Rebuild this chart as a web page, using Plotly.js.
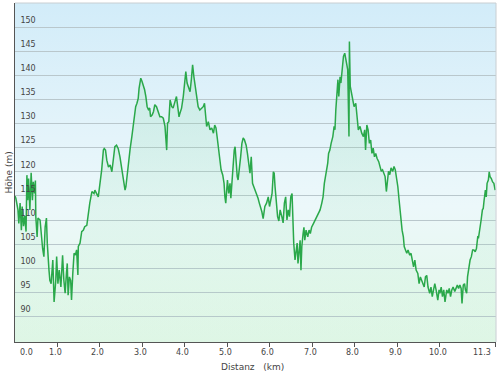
<!DOCTYPE html>
<html>
<head>
<meta charset="utf-8">
<script src="https://cdn.plot.ly/plotly-3.0.1.min.js"></script>
<style>
  html, body { margin: 0; padding: 0; background: #ffffff; }
  #wrap { position: relative; width: 500px; height: 377px; }
  #bg { position: absolute; left: 15px; top: 3px; width: 481px; height: 339px;
        background: linear-gradient(to bottom, #d2ecf9 0%, #e2f3fa 35%, #ecf8fa 60%, #e6f8ee 85%, #e2f7e8 100%); }
  #chart { position: absolute; left: 0; top: 0; width: 500px; height: 377px; }
</style>
</head>
<body>
<div id="wrap"><div id="bg"></div><div id="chart"></div></div>
<script>
// Distance (km) along the route
const distanceKm = [
  0.00,0.02,0.07,0.09,0.12,0.15,0.17,0.20,0.23,0.26,0.28,0.30,0.32,0.35,0.38,0.41,0.43,0.46,0.48,0.49,
  0.52,0.54,0.59,0.62,0.65,0.68,0.71,0.74,0.76,0.80,0.82,0.85,0.89,0.90,0.92,0.96,0.98,1.01,1.04,1.08,
  1.10,1.12,1.15,1.18,1.21,1.23,1.25,1.28,1.31,1.33,1.36,1.39,1.42,1.45,1.48,1.49,1.53,1.57,1.61,1.64,
  1.69,1.72,1.76,1.81,1.86,
  1.88,1.92,1.96,2.00,2.04,2.08,2.10,2.13,2.16,2.20,2.24,2.28,2.31,2.35,2.39,2.43,2.47,2.51,2.55,2.59,
  2.61,2.64,2.68,2.71,2.75,2.78,2.81,2.84,2.87,2.90,2.92,2.96,2.99,3.02,3.05,3.08,3.11,3.14,3.17,3.19,
  3.23,3.26,3.29,3.33,3.37,3.41,3.45,3.49,3.53,3.55,3.57,3.59,3.62,3.65,3.69,3.72,3.76,3.80,3.83,3.86,
  3.88,3.92,3.96,4.00,4.02,4.05,4.09,4.12,4.15,4.18,4.21,4.24,4.28,4.31,4.35,4.39,4.43,4.46,4.48,4.51,
  4.55,4.59,4.63,4.67,4.70,4.73,4.76,4.79,4.82,4.85,4.89,4.92,4.94,4.96,5.00,5.03,5.06,5.08,5.11,5.14,
  5.16,5.18,5.21,5.23,5.25,5.28,5.31,5.34,5.37,5.40,5.44,5.47,5.50,5.53,5.56,5.59,5.62,5.65,5.69,5.72,
  5.75,5.78,5.81,5.84,5.88,
  5.92,5.96,5.99,6.02,6.05,6.08,6.10,6.12,6.15,6.18,6.21,6.24,6.28,6.31,6.34,6.37,6.40,6.43,6.46,6.49,
  6.52,6.54,6.56,6.59,6.61,6.64,6.66,6.68,6.71,6.73,6.75,6.78,6.80,6.82,6.85,6.89,6.92,6.95,6.98,7.02,
  7.06,7.10,7.14,7.18,7.22,7.25,7.28,7.31,7.33,7.36,7.38,7.41,7.44,7.48,7.51,7.53,7.55,7.58,7.60,7.62,
  7.65,7.67,7.70,7.73,7.76,7.79,7.81,7.83,7.86,7.87,7.89,7.92,7.95,7.98,8.02,8.05,8.08,8.12,
  8.16,8.20,8.23,8.25,8.28,8.31,8.34,8.37,8.40,8.43,8.46,8.49,8.52,8.56,8.59,8.62,8.65,8.68,8.71,8.74,
  8.76,8.79,8.82,8.85,8.89,8.92,8.95,8.98,9.01,9.04,9.07,9.09,9.11,9.14,9.16,9.19,9.22,9.25,9.29,9.32,
  9.35,9.38,9.41,9.44,9.48,9.51,9.54,9.57,9.60,9.63,9.66,9.69,9.72,9.76,9.79,9.82,9.85,9.88,9.91,9.95,
  9.98,
  10.00,10.03,10.06,10.09,10.12,10.16,10.19,10.22,10.25,10.28,10.31,10.35,10.38,10.41,10.44,10.47,10.50,10.52,10.55,10.58,
  10.60,10.63,10.65,10.68,10.71,10.74,10.77,10.80,10.83,10.86,10.89,10.91,10.94,10.97,11.00,11.02,11.04,11.07,11.09,11.11,
  11.14,11.16,11.18,11.21,11.24,11.27,11.30
];
// Elevation (m)
const elevationM = [
  115.0,114.5,112.1,109.3,113.5,107.9,112.8,108.7,110.8,107.6,119.3,114.1,118.6,112.1,119.8,114.1,117.9,115.5,118.2,110.7,
  106.5,110.4,110.0,106.5,104.1,102.4,108.6,110.4,105.2,99.6,97.5,96.8,101.7,98.9,93.0,97.5,102.4,96.8,99.6,96.1,
  100.3,102.7,97.5,94.8,98.9,101.0,94.4,98.2,97.5,93.4,98.9,103.1,102.7,103.8,98.6,104.5,105.2,107.6,107.9,108.6,
  108.9,111.4,113.5,115.9,115.5,
  116.2,115.6,114.8,117.6,120.4,124.5,124.8,124.5,122.4,121.0,121.4,120.0,122.4,125.2,125.5,124.8,123.1,121.0,118.3,116.2,
  116.9,119.7,122.4,124.8,127.3,129.4,131.8,133.5,134.2,135.2,137.3,139.4,138.7,138.0,137.0,135.6,133.5,132.9,133.2,131.4,
  131.8,132.5,133.9,133.5,132.5,131.4,131.4,131.1,129.4,127.3,124.5,130.1,130.4,134.9,133.5,133.2,134.2,135.6,133.5,131.4,
  132.1,133.2,135.6,139.1,140.8,138.4,137.3,136.6,139.1,142.2,139.7,137.6,135.6,133.5,132.8,133.2,133.5,134.2,131.4,129.4,
  130.4,128.7,129.1,128.0,129.7,129.1,127.0,124.9,122.4,120.4,119.3,117.6,114.8,113.5,118.3,115.5,117.6,114.5,118.3,122.4,
  124.5,125.2,121.1,119.0,118.3,120.4,123.1,125.9,127.0,126.6,125.5,123.8,121.1,119.7,123.1,117.6,116.9,116.2,115.5,114.5,
  113.5,112.8,111.7,110.3,112.8,
  113.5,114.8,112.8,114.5,115.5,120.0,119.7,116.9,113.5,110.7,109.8,112.1,110.7,109.4,113.5,114.8,110.0,112.1,110.7,114.8,
  115.5,110.0,105.2,101.7,103.1,105.2,101.0,103.8,105.8,99.6,104.5,107.2,108.5,105.8,107.9,106.5,107.9,107.2,108.5,109.2,
  110.0,110.7,111.4,112.1,113.5,114.8,117.6,119.0,120.4,121.8,123.8,124.5,125.9,127.3,129.4,128.7,132.8,137.0,139.1,135.6,
  139.7,138.4,141.8,143.9,144.6,142.9,141.8,141.2,127.3,147.0,137.7,136.3,134.9,133.5,134.2,131.4,128.7,129.4,
  128.0,127.3,128.7,124.5,129.7,128.7,125.9,126.6,123.8,124.9,123.1,123.8,122.8,122.1,121.1,120.1,120.4,119.7,119.0,115.9,
  117.6,120.1,119.4,120.8,120.1,121.1,120.4,119.0,116.9,114.1,110.7,109.3,107.9,106.5,104.5,103.8,103.1,103.8,102.7,103.1,
  101.7,100.3,101.7,99.6,98.9,96.8,98.2,97.5,96.8,96.1,98.2,98.5,96.1,94.8,96.1,94.1,95.5,96.8,95.5,93.4,
  95.5,
  94.8,96.1,94.1,95.5,93.0,95.5,94.8,95.8,94.1,95.5,96.1,95.2,96.1,96.5,95.8,96.5,95.8,92.7,96.5,96.8,
  95.5,94.8,98.2,100.6,101.7,102.4,103.8,103.8,103.4,104.1,106.5,106.4,107.9,110.0,112.1,112.4,114.1,116.2,114.8,117.6,
  118.3,120.0,119.0,118.6,117.9,117.6,116.2
];
const xTickValues = [0, 1, 2, 3, 4, 5, 6, 7, 8, 9, 10, 11.3];
const xTickLabels = ['0.0','1.0','2.0','3.0','4.0','5.0','6.0','7.0','8.0','9.0','10.0','11.3'];
const yTickValues = [90, 95, 100, 105, 110, 115, 120, 125, 130, 135, 140, 145, 150];
const xTitle = 'Distanz\u00A0\u00A0\u00A0(km)';
const yTitle = 'Höhe (m)';

const FAMILY = 'DejaVu Sans, Verdana, sans-serif';
const font = { family: FAMILY, size: 8, color: '#444444' };
const titleFont = { family: FAMILY, size: 9, color: '#444444' };

const trace = {
  type: 'scatter', mode: 'lines',
  x: distanceKm, y: elevationM,
  line: { color: '#2aa84a', width: 1.5 },
  fill: 'tozeroy',
  fillgradient: {
    type: 'vertical',
    start: 84.7, stop: 147,
    colorscale: [[0, 'rgba(160,230,185,0.06)'], [1, 'rgba(120,210,150,0.22)']]
  },
  hoverinfo: 'skip'
};

// x tick labels as annotations (edge labels are kept inside the chart, like the original)
const xLabelAnnotations = xTickValues.map((v, i) => {
  const last = i === xTickValues.length - 1;
  const first = i === 0;
  return {
    xref: 'x', yref: 'paper', x: v, y: 0,
    text: xTickLabels[i], showarrow: false, font: font,
    xanchor: first ? 'left' : (last ? 'right' : 'center'),
    xshift: first ? 3 : (last ? -2 : -2),
    yanchor: 'middle', yshift: -10
  };
});

const layout = {
  width: 500, height: 377,
  margin: { l: 15, r: 4, t: 3, b: 35 },
  paper_bgcolor: 'rgba(0,0,0,0)',
  plot_bgcolor: 'rgba(0,0,0,0)',
  showlegend: false,
  font: font,
  xaxis: {
    range: [0, 11.32], fixedrange: true,
    tickmode: 'array', tickvals: xTickValues, showticklabels: false,
    showgrid: false, zeroline: false,
    showline: true, linecolor: '#555555', linewidth: 1,
    ticks: 'outside', ticklen: 4, tickcolor: '#555555'
  },
  yaxis: {
    range: [84.7, 155.0], fixedrange: true,
    tickmode: 'array', tickvals: yTickValues,
    showgrid: true, gridcolor: '#b9c7cc', gridwidth: 1,
    zeroline: false,
    showline: true, linecolor: '#555555', linewidth: 1,
    ticks: '', ticklabelposition: 'inside',
    ticklabelshift: -7, ticklabelstandoff: 4,
    tickfont: font
  },
  annotations: xLabelAnnotations.concat([
    { xref: 'paper', yref: 'paper', x: 0.5, y: 0, xshift: -3.5, yshift: -25,
      xanchor: 'center', yanchor: 'middle', text: xTitle, showarrow: false, font: titleFont },
    { xref: 'paper', yref: 'paper', x: 0, y: 0.5, xshift: -7,
      xanchor: 'center', yanchor: 'middle', textangle: -90, text: yTitle, showarrow: false, font: titleFont }
  ]),
  shapes: [
    { type: 'line', xref: 'paper', yref: 'paper', x0: 0, x1: 1, y0: 1, y1: 1, line: { color: '#c8ced2', width: 1 } },
    { type: 'line', xref: 'paper', yref: 'paper', x0: 1, x1: 1, y0: 0, y1: 1, line: { color: '#c8ced2', width: 1 } }
  ]
};

Plotly.newPlot('chart', [trace], layout, { displayModeBar: false, staticPlot: true });
</script>
</body>
</html>
